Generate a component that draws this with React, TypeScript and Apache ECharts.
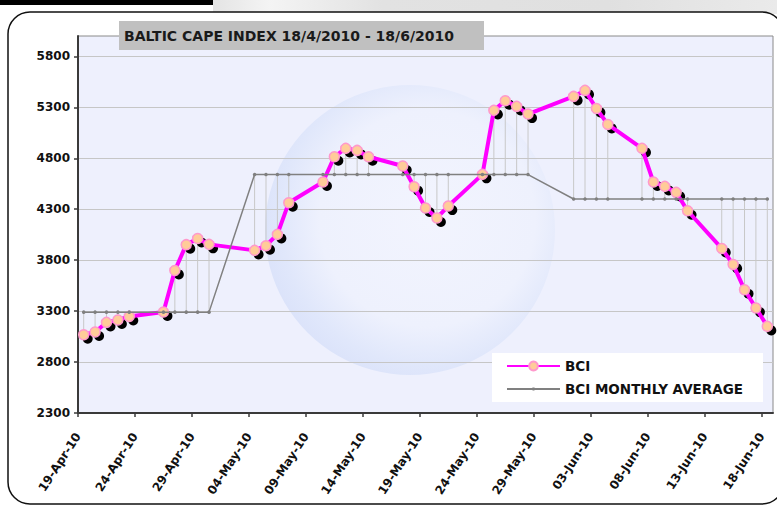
import React, { useEffect, useRef } from 'react';
import * as echarts from 'echarts';

// ---- data ----
const dates = [
  '2010-04-19', '2010-04-20', '2010-04-21', '2010-04-22', '2010-04-23',
  '2010-04-26', '2010-04-27', '2010-04-28', '2010-04-29', '2010-04-30',
  '2010-05-04', '2010-05-05', '2010-05-06', '2010-05-07',
  '2010-05-10', '2010-05-11', '2010-05-12', '2010-05-13', '2010-05-14',
  '2010-05-17', '2010-05-18', '2010-05-19', '2010-05-20', '2010-05-21',
  '2010-05-24', '2010-05-25', '2010-05-26', '2010-05-27', '2010-05-28',
  '2010-06-01', '2010-06-02', '2010-06-03', '2010-06-04',
  '2010-06-07', '2010-06-08', '2010-06-09', '2010-06-10', '2010-06-11',
  '2010-06-14', '2010-06-15', '2010-06-16', '2010-06-17', '2010-06-18',
];
const bciValues = [
  3068, 3095, 3189, 3213, 3248,
  3291, 3699, 3952, 4013, 3955,
  3896, 3942, 4053, 4364,
  4567, 4815, 4897, 4877, 4815,
  4724, 4521, 4312, 4214, 4331,
  4642, 5270, 5365, 5309, 5234,
  5407, 5466, 5289, 5132,
  4897, 4567, 4524, 4465, 4285,
  3915, 3758, 3510, 3330, 3150,
];
const avgMonths = ['2010-04', '2010-05', '2010-06'];
const avgValues = [3290, 4640, 4400];
const yTickValues = [2300, 2800, 3300, 3800, 4300, 4800, 5300, 5800];
const xTickDays = [0, 5, 10, 15, 20, 25, 30, 35, 40, 45, 50, 55, 60];
const monthNames = ['Jan', 'Feb', 'Mar', 'Apr', 'May', 'Jun', 'Jul', 'Aug', 'Sep', 'Oct', 'Nov', 'Dec'];
const seriesNames = ['BCI', 'BCI MONTHLY AVERAGE'];
const titleText = 'BALTIC CAPE INDEX 18/4/2010 - 18/6/2010';

// ---- helpers ----
const START = Date.UTC(2010, 3, 19);
const DAY = 86400000;
const dayPos = (s: string) => {
  const [y, m, d] = s.split('-').map(Number);
  return (Date.UTC(y, m - 1, d) - START) / DAY + 0.5;
};
const fmtTick = (v: number) => {
  const dt = new Date(START + Math.round(v) * DAY);
  return `${String(dt.getUTCDate()).padStart(2, '0')}-${monthNames[dt.getUTCMonth()]}-${String(dt.getUTCFullYear()).slice(2)}`;
};
const avgFor = (s: string) => avgValues[avgMonths.indexOf(s.slice(0, 7))];

const FONT = 'DejaVu Sans';

export default function App() {
  const ref = useRef<HTMLDivElement>(null);
  useEffect(() => {
    if (!ref.current) return;
    const chart = echarts.init(ref.current, undefined, { renderer: 'svg' });
    const bciData = dates.map((d, i) => [dayPos(d), bciValues[i]]);
    const avgData = dates.map((d) => [dayPos(d), avgFor(d)]);
    const hlData = dates.map((d, i) => [dayPos(d), bciValues[i], avgFor(d)]);

    const option: any = {
      animation: false,
      backgroundColor: '#ffffff',
      textStyle: { fontFamily: FONT },
      title: {
        text: titleText,
        left: 119,
        top: 21,
        backgroundColor: '#C0C0C0',
        padding: [8, 30, 7, 5],
        textStyle: { fontFamily: FONT, fontSize: 14, fontWeight: 'bold', color: '#1a1a1a' },
      },
      grid: {
        left: 78, right: 4, top: 36, bottom: 92,
        show: true, backgroundColor: 'transparent', borderColor: '#8a8a8a', borderWidth: 1,
      },
      legend: [
        {
          data: [seriesNames[0]], left: 506, top: 359, itemWidth: 53, itemHeight: 11, padding: 0,
          selectedMode: false,
          textStyle: { fontFamily: FONT, fontSize: 13.5, fontWeight: 'bold', color: '#111' },
        },
        {
          data: [seriesNames[1]], left: 506, top: 382, itemWidth: 53, itemHeight: 4, padding: 0,
          selectedMode: false,
          textStyle: { fontFamily: FONT, fontSize: 13.5, fontWeight: 'bold', color: '#111' },
        },
      ],
      xAxis: {
        type: 'value', min: 0, max: 61, interval: 5,
        axisLine: { show: true, onZero: false, lineStyle: { color: '#3a3a3a', width: 2 } },
        axisTick: { show: true, length: 4, customValues: xTickDays, lineStyle: { color: '#3a3a3a', width: 1.5 } },
        axisLabel: {
          customValues: xTickDays, rotate: 57, margin: 21, formatter: fmtTick,
          fontFamily: FONT, fontSize: 12, fontWeight: 'bold', color: '#111',
        },
        splitLine: { show: false },
      },
      yAxis: {
        type: 'value', min: 2300, max: 6000, interval: 500,
        axisLine: { show: true, lineStyle: { color: '#3a3a3a', width: 2 } },
        axisTick: { show: true, length: 4, customValues: yTickValues, lineStyle: { color: '#3a3a3a', width: 1.5 } },
        axisLabel: {
          customValues: yTickValues, margin: 8, formatter: (v: number) => String(v),
          fontFamily: FONT, fontSize: 12, fontWeight: 'bold', color: '#111',
        },
        splitLine: { show: true, lineStyle: { color: '#c6c6c6', width: 1 } },
      },
      graphic: [
        {
          type: 'rect', z: -20, silent: true, shape: { x: 213, y: 0, width: 564, height: 14 },
          style: {
            fill: new echarts.graphic.LinearGradient(0, 0, 1, 0, [
              { offset: 0, color: '#E4E4E4' },
              { offset: 0.1, color: '#F4F4F4' },
              { offset: 0.3, color: '#E2E2E2' },
              { offset: 0.7, color: '#E0E0E0' },
              { offset: 1, color: '#EAEAEA' },
            ]),
          },
        },
        { type: 'rect', z: -20, silent: true, shape: { x: 0, y: 0, width: 213, height: 5 }, style: { fill: '#000' } },
        { type: 'rect', z: -19, silent: true, shape: { x: 8, y: 12, width: 776, height: 492, r: 22 }, style: { fill: '#fff', stroke: '#111', lineWidth: 1.5 } },
        { type: 'rect', z: -18, silent: true, shape: { x: 78, y: 36, width: 695, height: 377 }, style: { fill: '#EEF0FD' } },
        {
          type: 'circle', z: -17, silent: true, shape: { cx: 410, cy: 230, r: 145 },
          style: {
            fill: new echarts.graphic.RadialGradient(0.56, 0.46, 0.62, [
              { offset: 0, color: '#F2F4FE' },
              { offset: 0.6, color: '#EEF1FD' },
              { offset: 0.82, color: '#E0E7FB' },
              { offset: 1, color: '#D8E0F9' },
            ]),
          },
        },
        { type: 'rect', z: 3, silent: true, shape: { x: 492, y: 353, width: 271, height: 49 }, style: { fill: '#fff' } },
      ],
      series: [
        {
          type: 'custom', name: 'hl', z: 1, silent: true,
          data: hlData,
          encode: { x: 0, y: [1, 2] },
          renderItem: (params: any, api: any) => {
            const p1 = api.coord([api.value(0), api.value(1)]);
            const p2 = api.coord([api.value(0), api.value(2)]);
            return {
              type: 'line',
              shape: { x1: p1[0], y1: p1[1], x2: p2[0], y2: p2[1] },
              style: { stroke: '#C8C8C8', lineWidth: 1 },
            };
          },
        },
        {
          type: 'line', name: 'shadow', z: 2, silent: true,
          data: bciData,
          showSymbol: true, symbol: 'circle', symbolSize: 10, symbolOffset: [4, 4],
          lineStyle: { width: 0, opacity: 0 },
          itemStyle: { color: '#000', borderWidth: 0 },
        },
        {
          type: 'line', name: seriesNames[0], z: 3,
          data: bciData,
          showSymbol: true, symbol: 'circle', symbolSize: 10,
          lineStyle: { color: '#FF00FF', width: 4 },
          itemStyle: { color: '#FFCC99', borderColor: '#FF99CC', borderWidth: 1.5 },
        },
        {
          type: 'line', name: seriesNames[1], z: 4,
          data: avgData,
          showSymbol: true, symbol: 'circle', symbolSize: 3.5,
          lineStyle: { color: '#808080', width: 1.5 },
          itemStyle: { color: '#808080', borderWidth: 0 },
        },
      ],
    };
    chart.setOption(option);
    return () => chart.dispose();
  }, []);
  return <div ref={ref} style={{ position: 'absolute', left: 0, top: 0, width: 777, height: 505 }} />;
}
